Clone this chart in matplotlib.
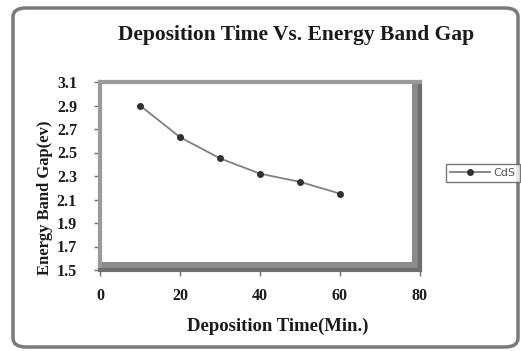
import matplotlib
matplotlib.use("Agg")
from matplotlib import pyplot as plt
import matplotlib.patches as patches

# data
deposition_time = [10, 20, 30, 40, 50, 60]
band_gap = [2.90, 2.63, 2.45, 2.32, 2.25, 2.15]
series_name = "CdS"
x_ticks = [0, 20, 40, 60, 80]
y_ticks = [1.5, 1.7, 1.9, 2.1, 2.3, 2.5, 2.7, 2.9, 3.1]

serif = "Liberation Serif"
W, H = 521, 351

fig = plt.figure(figsize=(W / 100, H / 100), dpi=100)
fig.patch.set_facecolor("white")

# outer rounded chart border
border = patches.FancyBboxPatch((13 / W, 4 / H), (505 / W), (339 / H),
                                boxstyle="round,pad=0,rounding_size=0.025",
                                transform=fig.transFigure, facecolor="none",
                                edgecolor="#7a7a7a", linewidth=2.5)
fig.patches.append(border)

ax = fig.add_axes([100 / W, 1 - 270 / H, 320 / W, 188 / H])
ax.plot(deposition_time, band_gap, color="#808080", linewidth=1.3,
        marker="o", markersize=4, markerfacecolor="#303030",
        markeredgecolor="#303030", label=series_name)

ax.set_xlim(0, 80)
ax.set_ylim(1.5, 3.1)
ax.set_xticks(x_ticks)
ax.set_yticks(y_ticks)
ax.set_xticklabels([str(v) for v in x_ticks])
ax.set_yticklabels(["%.1f" % v for v in y_ticks])
for lbl in ax.get_xticklabels() + ax.get_yticklabels():
    lbl.set_fontfamily(serif)
    lbl.set_fontweight("bold")
    lbl.set_fontsize(11.5)
    lbl.set_color("#1a1a1a")
ax.tick_params(axis="both", direction="out", length=4, width=1, color="#707070")
ax.tick_params(axis="x", pad=9)
ax.tick_params(axis="y", pad=12.5)

# plot area frame: light edge top/left, darker shadow right/bottom
for side in ["top", "left"]:
    ax.spines[side].set_color("#9a9a9a")
    ax.spines[side].set_linewidth(3)
for side in ["right", "bottom"]:
    ax.spines[side].set_color("#6e6e6e")
    ax.spines[side].set_linewidth(3)
ax.add_patch(patches.Rectangle((0.975, 0.0), 0.025, 1.0, transform=ax.transAxes,
                               facecolor="#8a8a8a", edgecolor="none", clip_on=False))
ax.add_patch(patches.Rectangle((0.0, 0.0), 1.0, 0.045, transform=ax.transAxes,
                               facecolor="#8a8a8a", edgecolor="none", clip_on=False))

fig.text(296 / W, 1 - 35 / H, "Deposition Time Vs. Energy Band Gap",
         ha="center", va="center", fontfamily=serif, fontweight="bold",
         fontsize=15.5, color="#1a1a1a")
fig.text(278 / W, 1 - 326 / H, "Deposition Time(Min.)", ha="center", va="center",
         fontfamily=serif, fontweight="bold", fontsize=13.5, color="#1a1a1a")
fig.text(45 / W, 1 - 198 / H, "Energy Band Gap(ev)", ha="center", va="center",
         rotation=90, fontfamily=serif, fontweight="bold", fontsize=12,
         color="#1a1a1a")

leg = fig.legend(loc="center", bbox_to_anchor=(483 / W, 1 - 173 / H),
                 frameon=True, fancybox=False, fontsize=8, handlelength=3.6,
                 borderpad=0.4, handletextpad=0.3, borderaxespad=0)
leg.get_frame().set_edgecolor("#555555")
leg.get_frame().set_linewidth(1.0)
for t in leg.get_texts():
    t.set_color("#555555")

fig.savefig("out.png", dpi=100)
